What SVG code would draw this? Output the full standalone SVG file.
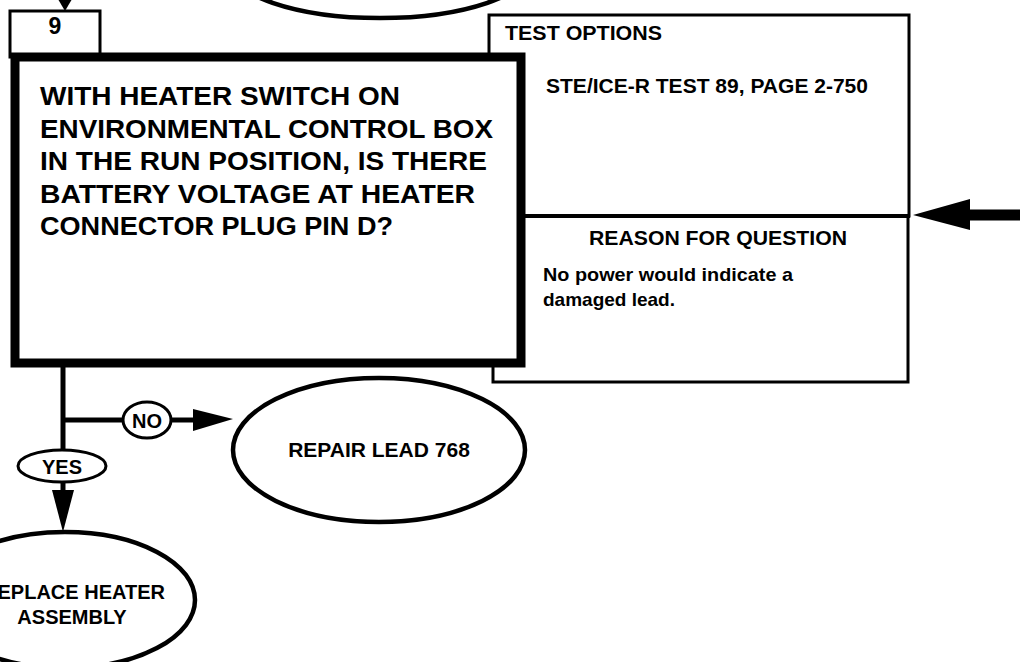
<svg xmlns="http://www.w3.org/2000/svg" width="1028" height="662" viewBox="0 0 1028 662">
<style>
  .t { font-family: "Liberation Sans", Arial, sans-serif; font-weight: bold; fill: #000; }
  .thin { fill: #fff; stroke: #000; stroke-width: 3; }
  .oval { fill: #fff; stroke: #000; stroke-width: 4.5; }
  .lbl { fill: #fff; stroke: #000; stroke-width: 3; }
  .wire { fill: none; stroke: #000; stroke-width: 5; }
  .head { fill: #000; stroke: none; }
</style>
<rect width="1028" height="662" fill="#fff"/>

<g id="prev-node">
  <ellipse class="oval" cx="380" cy="-34" rx="152" ry="52"/>
</g>

<g id="test-options">
  <path class="thin" d="M489 15 H909 V216 H489 Z"/>
  <path class="thin" d="M493 216 H908 V382 H493 Z"/>
  <line x1="520" y1="216" x2="910" y2="216" stroke="#000" stroke-width="4"/>
  <text class="t" x="505" y="40" font-size="20" textLength="157" lengthAdjust="spacingAndGlyphs">TEST OPTIONS</text>
  <text class="t" x="546" y="93" font-size="20" textLength="322" lengthAdjust="spacingAndGlyphs">STE/ICE-R TEST 89, PAGE 2-750</text>
  <text class="t" x="718" y="245" font-size="20" text-anchor="middle" textLength="258" lengthAdjust="spacingAndGlyphs">REASON FOR QUESTION</text>
  <text class="t" x="543" y="281" font-size="19" textLength="250" lengthAdjust="spacingAndGlyphs">No power would indicate a</text>
  <text class="t" x="543" y="306" font-size="19">damaged lead.</text>
</g>

<g id="step-9">
  <rect class="thin" x="10" y="11" width="90" height="46"/>
  <text class="t" x="55" y="34" font-size="23" text-anchor="middle">9</text>
  <rect x="15" y="57" width="506" height="306" fill="#fff" stroke="#000" stroke-width="9"/>
  <text class="t" x="40" y="105" font-size="26" textLength="360" lengthAdjust="spacingAndGlyphs">WITH HEATER SWITCH ON</text>
  <text class="t" x="40" y="138" font-size="26" textLength="453" lengthAdjust="spacingAndGlyphs">ENVIRONMENTAL CONTROL BOX</text>
  <text class="t" x="40" y="170" font-size="26" textLength="447" lengthAdjust="spacingAndGlyphs">IN THE RUN POSITION, IS THERE</text>
  <text class="t" x="40" y="203" font-size="26" textLength="435" lengthAdjust="spacingAndGlyphs">BATTERY VOLTAGE AT HEATER</text>
  <text class="t" x="40" y="235" font-size="26" textLength="353" lengthAdjust="spacingAndGlyphs">CONNECTOR PLUG PIN D?</text>
</g>

<g id="connectors">
  <polygon class="head" points="55,-6 75,-6 65,11"/>
  <path class="wire" d="M63 366 V490"/>
  <path class="wire" d="M63 420 H124"/>
  <path class="wire" d="M170 420 H196"/>
  <polygon class="head" points="193,409 193,431 233,419"/>
  <polygon class="head" points="52,490 74,490 63,532"/>
  <path d="M968 215 H1020" stroke="#000" stroke-width="11" fill="none"/>
  <polygon class="head" points="913,215 970,199 970,230"/>
</g>

<g id="label-no">
  <ellipse class="lbl" cx="147" cy="420" rx="24" ry="18"/>
  <text class="t" x="147" y="428" font-size="20" text-anchor="middle">NO</text>
</g>

<g id="label-yes">
  <ellipse class="lbl" cx="62" cy="466" rx="44" ry="16"/>
  <text class="t" x="62" y="474" font-size="20" text-anchor="middle">YES</text>
</g>

<g id="repair-lead">
  <ellipse class="oval" cx="379" cy="450" rx="146" ry="72"/>
  <text class="t" x="379" y="457" font-size="21" text-anchor="middle">REPAIR LEAD 768</text>
</g>

<g id="replace-heater">
  <ellipse class="oval" cx="65" cy="600" rx="130" ry="68"/>
  <text class="t" x="74" y="599" font-size="20" text-anchor="middle">REPLACE HEATER</text>
  <text class="t" x="72" y="624" font-size="20" text-anchor="middle">ASSEMBLY</text>
</g>
</svg>
